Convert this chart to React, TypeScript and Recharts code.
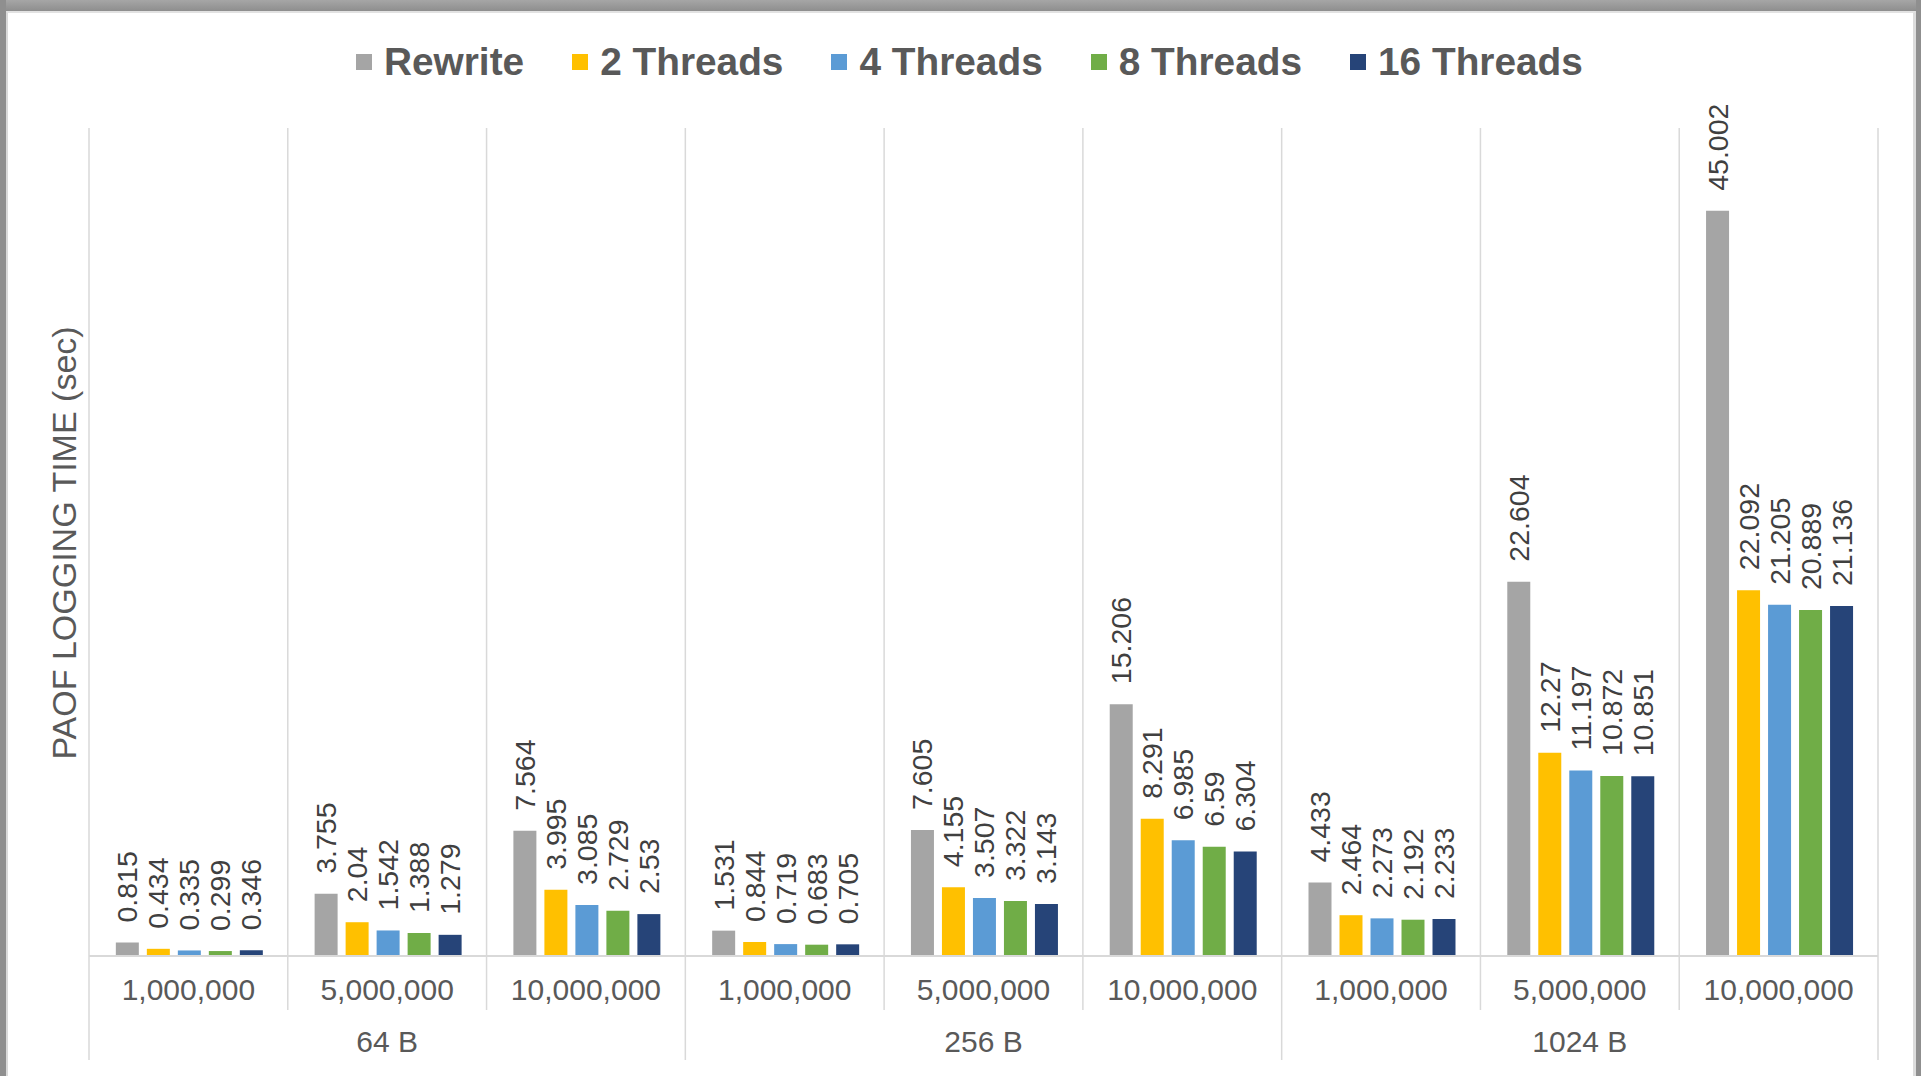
import { BarChart, Bar, XAxis, YAxis, CartesianGrid, Legend, LabelList } from "recharts";

const recordSizes = ["64 B", "256 B", "1024 B"];
const recordCounts = ["1,000,000", "5,000,000", "10,000,000"];

const rewrite = [0.815, 3.755, 7.564, 1.531, 7.605, 15.206, 4.433, 22.604, 45.002];
const threads2 = [0.434, 2.04, 3.995, 0.844, 4.155, 8.291, 2.464, 12.27, 22.092];
const threads4 = [0.335, 1.542, 3.085, 0.719, 3.507, 6.985, 2.273, 11.197, 21.205];
const threads8 = [0.299, 1.388, 2.729, 0.683, 3.322, 6.59, 2.192, 10.872, 20.889];
const threads16 = [0.346, 1.279, 2.53, 0.705, 3.143, 6.304, 2.233, 10.851, 21.136];

const series = [
  { key: "rewrite", name: "Rewrite", color: "#A5A5A5" },
  { key: "t2", name: "2 Threads", color: "#FFC000" },
  { key: "t4", name: "4 Threads", color: "#5B9BD5" },
  { key: "t8", name: "8 Threads", color: "#70AD47" },
  { key: "t16", name: "16 Threads", color: "#264478" },
];

const rows = recordSizes.flatMap((size, si) =>
  recordCounts.map((count, ci) => {
    const i = si * recordCounts.length + ci;
    return {
      key: `${size}|${count}`,
      size,
      count,
      rewrite: rewrite[i],
      t2: threads2[i],
      t4: threads4[i],
      t8: threads8[i],
      t16: threads16[i],
    };
  })
);

const FONT = "'Liberation Sans', Arial, sans-serif";
const GRID = "#D9D9D9";
const TEXT = "#595959";

const CountTick = (props: any) => {
  const { x, y, payload, index } = props;
  const half = payload && payload.offset ? payload.offset : 99.4;
  const last = index === rows.length - 1;
  return (
    <g>
      <line x1={x - half} x2={x - half} y1={y} y2={y + (index % 3 === 0 ? 104 : 54)} stroke={GRID} strokeWidth={1.5} />
      {last && <line x1={x + half} x2={x + half} y1={y} y2={y + 104} stroke={GRID} strokeWidth={1.5} />}
      <text x={x} y={y + 33} textAnchor="middle" dominantBaseline="central" fontSize={30} fill={TEXT} fontFamily={FONT}>
        {rows[index] ? rows[index].count : ""}
      </text>
    </g>
  );
};

const SizeTick = (props: any) => {
  const { x, y, index } = props;
  if (index % 3 !== 1) return null;
  return (
    <text x={x} y={y + 32} textAnchor="middle" dominantBaseline="central" fontSize={30} fill={TEXT} fontFamily={FONT}>
      {rows[index].size}
    </text>
  );
};

const ValueLabel = (props: any) => {
  const { x, y, width, value } = props;
  const cx = x + width / 2;
  const ty = y - 20;
  return (
    <text
      x={cx}
      y={ty}
      transform={`rotate(-90 ${cx} ${ty})`}
      textAnchor="start"
      dominantBaseline="central"
      fontSize={28.5}
      fill="#404040"
      fontFamily={FONT}
    >
      {String(value)}
    </text>
  );
};

const YTitle = (props: any) => {
  const { viewBox } = props;
  const cx = viewBox.x + viewBox.width - 25;
  const cy = viewBox.y + viewBox.height / 2 + 1;
  return (
    <text
      x={cx}
      y={cy}
      transform={`rotate(-90 ${cx} ${cy})`}
      textAnchor="middle"
      dominantBaseline="central"
      fontSize={34}
      fill={TEXT}
      fontFamily={FONT}
    >
      PAOF LOGGING TIME (sec)
    </text>
  );
};

const LegendContent = () => (
  <div style={{ display: "flex", alignItems: "center", height: 44, paddingLeft: 356, fontFamily: FONT }}>
    {series.map((s, i) => (
      <div key={s.key} style={{ display: "flex", alignItems: "center", marginLeft: i === 0 ? 0 : 48 }}>
        <div style={{ width: 16, height: 16, background: s.color, marginRight: 12 }} />
        <span style={{ fontSize: 38.8, fontWeight: "bold", color: TEXT, lineHeight: 1 }}>{s.name}</span>
      </div>
    ))}
  </div>
);

export default function App() {
  return (
    <div style={{ position: "relative", width: 1921, height: 1076, overflow: "hidden", background: "#fff" }}>
      <style>{"body{margin:0}"}</style>
      <div style={{ position: "absolute", left: 0, top: 0, width: 1921, height: 11, background: "linear-gradient(#a6a6a6, #8e8e8e)" }} />
      <div style={{ position: "absolute", left: 0, top: 0, width: 6, height: 1076, background: "#8f8f8f" }} />
      <div style={{ position: "absolute", left: 1916, top: 0, width: 5, height: 1076, background: "#8f8f8f" }} />
      <div
        style={{
          position: "absolute",
          left: 6,
          top: 11,
          width: 1910,
          height: 1070,
          boxSizing: "border-box",
          borderTop: "2px solid #e2e2e2",
          borderLeft: "2px solid #dadada",
          borderRight: "3px solid #dcdcdc",
          background: "#fff",
        }}
      />
      <div style={{ position: "absolute", left: 0, top: 0 }}>
        <BarChart
          width={1921}
          height={1076}
          data={rows}
          margin={{ top: 128, right: 43, bottom: 17, left: 0 }}
          barCategoryGap="13.5%"
          barGap={8}
        >
          <CartesianGrid
            horizontal={false}
            stroke={GRID}
            strokeWidth={1.5}
            verticalCoordinatesGenerator={({ offset }: any) =>
              rows.map((_, i) => offset.left + (i * offset.width) / rows.length).concat(offset.left + offset.width)
            }
          />
          <XAxis
            dataKey="key"
            height={53}
            interval={0}
            tickLine={false}
            tickSize={0}
            tickMargin={0}
            axisLine={{ stroke: GRID, strokeWidth: 2 }}
            tick={<CountTick />}
          />
          <XAxis
            xAxisId="group"
            dataKey="size"
            height={50}
            interval={0}
            tickLine={false}
            tickSize={0}
            tickMargin={0}
            axisLine={false}
            tick={<SizeTick />}
          />
          <YAxis
            type="number"
            domain={[0, 50]}
            width={89}
            tick={false}
            tickLine={false}
            axisLine={false}
            label={<YTitle />}
          />
          <Legend verticalAlign="middle" align="center" wrapperStyle={{ top: 40, left: 0, width: 1921 }} content={<LegendContent />} />
          {series.map((s) => (
            <Bar key={s.key} dataKey={s.key} name={s.name} fill={s.color} isAnimationActive={false}>
              <LabelList dataKey={s.key} content={<ValueLabel />} />
            </Bar>
          ))}
        </BarChart>
      </div>
    </div>
  );
}
